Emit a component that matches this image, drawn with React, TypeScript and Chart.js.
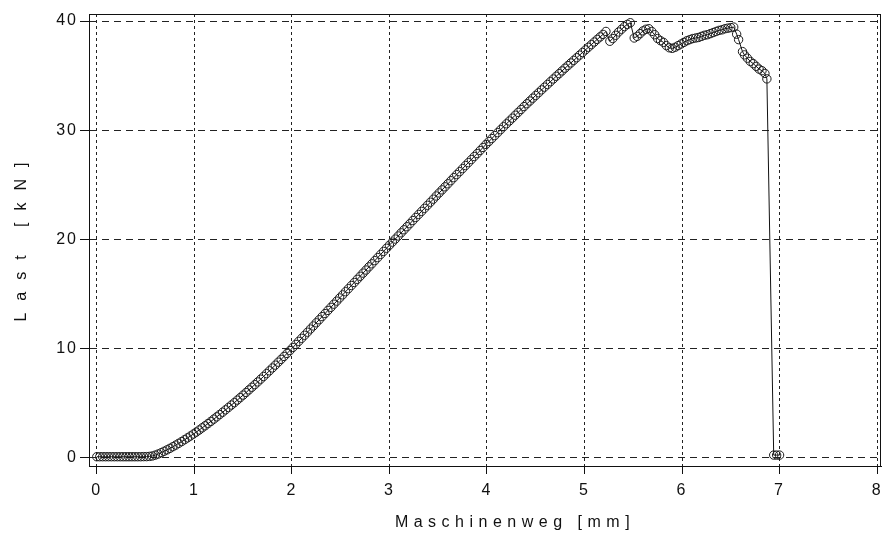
import React, { useEffect, useRef } from "react";
import { Chart, registerables } from "chart.js";

Chart.register(...registerables);

const X_TITLE = "Maschinenweg [mm]";
const Y_TITLE = "Last [kN]";
const X_TICKS = [0, 1, 2, 3, 4, 5, 6, 7, 8];
const Y_TICKS = [0, 10, 20, 30, 40];

const weg: number[] = [
  0.00, 0.03, 0.06, 0.09, 0.12, 0.15, 0.18, 0.21, 0.24, 0.27, 0.30, 0.33, 0.36, 0.39, 0.42, 0.45, 0.48, 0.51, 0.54,
  0.57, 0.60, 0.63, 0.66, 0.69, 0.72, 0.75, 0.78, 0.81, 0.84, 0.87, 0.90, 0.93, 0.96, 0.99,
  1.02, 1.05, 1.08, 1.11, 1.14, 1.17, 1.20, 1.23, 1.26, 1.29, 1.32, 1.35, 1.38, 1.41, 1.44, 1.47, 1.50,
  1.53, 1.56, 1.59, 1.62, 1.65, 1.68, 1.71, 1.74, 1.77, 1.80, 1.83, 1.86, 1.89, 1.92, 1.95, 1.98,
  2.01, 2.04, 2.07, 2.10, 2.13, 2.16, 2.19, 2.22, 2.25, 2.28, 2.31, 2.34, 2.37, 2.40, 2.43, 2.46, 2.49,
  2.52, 2.55, 2.58, 2.61, 2.64, 2.67, 2.70, 2.73, 2.76, 2.79, 2.82, 2.85, 2.88, 2.91, 2.94, 2.97,
  3.00, 3.03, 3.06, 3.09, 3.12, 3.15, 3.18, 3.21, 3.24, 3.27, 3.30, 3.33, 3.36, 3.39, 3.42, 3.45, 3.48,
  3.51, 3.54, 3.57, 3.60, 3.63, 3.66, 3.69, 3.72, 3.75, 3.78, 3.81, 3.84, 3.87, 3.90, 3.93, 3.96, 3.99,
  4.02, 4.05, 4.08, 4.11, 4.14, 4.17, 4.20, 4.23, 4.26, 4.29, 4.32, 4.35, 4.38, 4.41, 4.44, 4.47, 4.50,
  4.53, 4.56, 4.59, 4.62, 4.65, 4.68, 4.71, 4.74, 4.77, 4.80, 4.83, 4.86, 4.89, 4.92, 4.95, 4.98,
  5.01, 5.04, 5.07, 5.10, 5.13, 5.16, 5.19, 5.22,
  5.26, 5.29, 5.32, 5.35, 5.38, 5.41, 5.44, 5.47,
  5.51, 5.54, 5.57, 5.60, 5.63, 5.66, 5.69, 5.72, 5.75, 5.78, 5.81, 5.84, 5.87, 5.90,
  5.93, 5.96, 5.99, 6.02, 6.05, 6.08, 6.11, 6.14, 6.17, 6.20, 6.23, 6.26, 6.29,
  6.32, 6.35, 6.38, 6.41, 6.44, 6.47, 6.50, 6.53,
  6.56, 6.58, 6.62, 6.64, 6.67, 6.70, 6.73, 6.76, 6.79, 6.82, 6.85, 6.87,
  6.94, 6.97, 7.00,
];

const last: number[] = [
  0.05, 0.05, 0.05, 0.05, 0.05, 0.05, 0.05, 0.05, 0.05, 0.05, 0.05, 0.05, 0.05, 0.05, 0.05, 0.05, 0.06, 0.06, 0.08,
  0.12, 0.20, 0.30, 0.42, 0.55, 0.68, 0.82, 0.97, 1.12, 1.28, 1.44, 1.61, 1.78, 1.95, 2.13,
  2.31, 2.50, 2.70, 2.89, 3.09, 3.29, 3.50, 3.71, 3.92, 4.13, 4.35, 4.57, 4.79, 5.01, 5.24, 5.47, 5.70,
  5.94, 6.18, 6.42, 6.66, 6.91, 7.16, 7.41, 7.67, 7.93, 8.19, 8.45, 8.72, 8.98, 9.25, 9.52, 9.79,
  10.07, 10.35, 10.63, 10.91, 11.19, 11.47, 11.76, 12.04, 12.33, 12.61, 12.90, 13.18, 13.47, 13.75, 14.04, 14.32, 14.61,
  14.89, 15.18, 15.46, 15.75, 16.03, 16.32, 16.60, 16.89, 17.17, 17.46, 17.74, 18.03, 18.31, 18.60, 18.88, 19.17,
  19.45, 19.73, 20.01, 20.29, 20.58, 20.86, 21.14, 21.42, 21.71, 21.99, 22.27, 22.55, 22.83, 23.11, 23.39, 23.67, 23.96,
  24.24, 24.52, 24.80, 25.08, 25.36, 25.64, 25.92, 26.19, 26.47, 26.75, 27.02, 27.30, 27.58, 27.85, 28.13, 28.41, 28.69,
  28.96, 29.23, 29.50, 29.77, 30.04, 30.31, 30.58, 30.84, 31.10, 31.37, 31.63, 31.89, 32.16, 32.42, 32.67, 32.93, 33.18,
  33.43, 33.69, 33.94, 34.19, 34.44, 34.69, 34.94, 35.18, 35.43, 35.68, 35.92, 36.16, 36.40, 36.64, 36.88, 37.12,
  37.36, 37.60, 37.84, 38.08, 38.32, 38.55, 38.78, 39.05,
  38.15, 38.40, 38.70, 39.00, 39.25, 39.50, 39.70, 39.85,
  38.45, 38.60, 38.85, 39.10, 39.25, 39.30, 39.05, 38.75, 38.40, 38.20, 38.05, 37.75, 37.55, 37.50,
  37.60, 37.75, 37.90, 38.05, 38.20, 38.30, 38.40, 38.45, 38.50, 38.60, 38.70, 38.75, 38.85,
  38.95, 39.05, 39.15, 39.20, 39.30, 39.35, 39.40, 39.45,
  38.80, 38.30, 37.20, 36.90, 36.60, 36.30, 36.10, 35.85, 35.60, 35.45, 35.20, 34.70,
  0.20, 0.20, 0.20,
];

const FONT = '"Liberation Sans", Arial, sans-serif';

const decor = {
  id: "decor",
  beforeDraw(chart: any) {
    chart.ctx.letterSpacing = "2px";
  },
  afterDraw(chart: any) {
    const { ctx, chartArea: a } = chart;
    ctx.save();
    ctx.strokeStyle = "#111";
    ctx.lineWidth = 1;
    ctx.setLineDash([]);
    ctx.beginPath();
    ctx.moveTo(a.left, a.top + 0.5);
    ctx.lineTo(a.right, a.top + 0.5);
    ctx.moveTo(a.right - 0.5, a.top);
    ctx.lineTo(a.right - 0.5, a.bottom);
    ctx.stroke();
    ctx.fillStyle = "#111";
    ctx.font = "16px " + FONT;
    ctx.textAlign = "center";
    ctx.textBaseline = "middle";
    ctx.letterSpacing = "5.5px";
    ctx.fillText(X_TITLE, (a.left + a.right) / 2 + 30, 523);
    ctx.translate(22, (a.top + a.bottom) / 2 - 4);
    ctx.rotate(-Math.PI / 2);
    ctx.letterSpacing = "12px";
    ctx.fillText(Y_TITLE, 0, 0);
    ctx.restore();
  },
};

export default function App() {
  const ref = useRef<HTMLCanvasElement | null>(null);
  useEffect(() => {
    if (!ref.current) return;
    const pts = weg.map((x, i) => ({ x, y: last[i] }));
    const chart = new Chart(ref.current, {
      type: "scatter",
      data: {
        datasets: [
          {
            data: pts,
            showLine: true,
            borderColor: "#111",
            borderWidth: 1,
            pointRadius: 4.2,
            pointBorderWidth: 1,
            pointBorderColor: "#1a1a1a",
            pointBackgroundColor: "rgba(0,0,0,0)",
            pointHoverRadius: 4.2,
            clip: false,
          },
        ],
      },
      options: {
        responsive: false,
        animation: false,
        events: [],
        layout: { autoPadding: false, padding: { left: 0, right: 2, top: 14, bottom: 0 } },
        plugins: { legend: { display: false }, tooltip: { enabled: false } },
        scales: {
          x: {
            type: "linear",
            min: -0.08,
            max: 8.04,
            afterBuildTicks: (s: any) => {
              s.ticks = X_TICKS.map((v) => ({ value: v }));
            },
            ticks: {
              autoSkip: false,
              maxRotation: 0,
              padding: 7,
              color: "#111",
              font: { family: FONT, size: 16 },
            },
            grid: { color: "#222", lineWidth: 1, tickLength: 8, tickColor: "#111" },
            border: { display: true, color: "#111", width: 1, dash: [3, 3] },
            afterFit: (s: any) => {
              s.height = 71;
              s.paddingLeft = 0;
              s.paddingRight = 0;
            },
          },
          y: {
            type: "linear",
            min: -0.8,
            max: 40.65,
            afterBuildTicks: (s: any) => {
              s.ticks = Y_TICKS.map((v) => ({ value: v }));
            },
            ticks: {
              padding: 2,
              color: "#111",
              font: { family: FONT, size: 16 },
            },
            grid: { color: "#222", lineWidth: 1, tickLength: 9, tickColor: "#111" },
            border: { display: true, color: "#111", width: 1, dash: [7, 5] },
            afterFit: (s: any) => {
              s.width = 89;
              s.paddingTop = 0;
              s.paddingBottom = 0;
            },
          },
        },
      },
      plugins: [decor],
    });
    return () => chart.destroy();
  }, []);
  return (
    <div style={{ position: "absolute", left: 0, top: 0, width: 883, height: 537, background: "#fff" }}>
      <canvas ref={ref} width={883} height={537} style={{ display: "block" }} />
    </div>
  );
}
